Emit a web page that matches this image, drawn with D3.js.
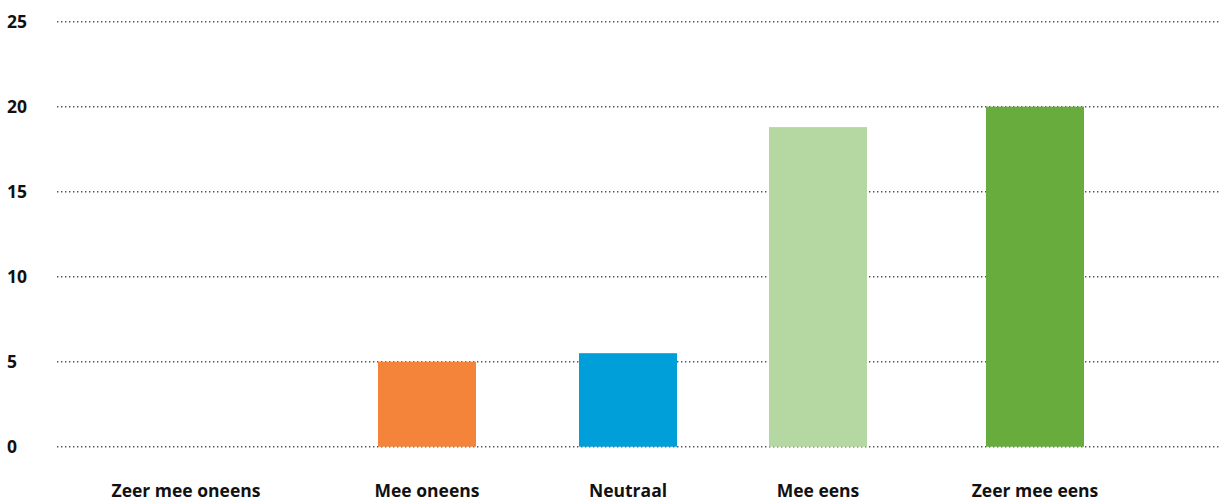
<!DOCTYPE html>
<html><head><meta charset="utf-8">
<script src="https://cdn.jsdelivr.net/npm/d3@7"></script>
<style>body{margin:0;background:#fff}svg{display:block}</style>
</head><body>
<svg id="c" width="1220" height="503"></svg>
<script>
const categories = ["Zeer mee oneens","Mee oneens","Neutraal","Mee eens","Zeer mee eens"];
const values = [0, 5, 5.5, 18.8, 20];
const colors = ["#f3843a","#f3843a","#009fd9","#b5d8a3","#67ac3d"];
const yTicks = [0,5,10,15,20,25];

const svg = d3.select("#c");
const W = 1220, H = 503;
const y = d3.scaleLinear().domain([0,25]).range([446.7,21.7]);
// category centres (chart layout is not evenly spaced in the original)
const x = d3.scaleOrdinal().domain(categories).range([186,427,628,818,1035]);
const bw = 98;

const font = "'Open Sans', sans-serif";

// gridlines
svg.append("g").selectAll("line").data(yTicks).join("line")
  .attr("x1",57).attr("x2",W)
  .attr("y1",d=>y(d)).attr("y2",d=>y(d))
  .attr("stroke","#555").attr("stroke-width",1.4)
  .attr("stroke-dasharray","1.4,2.6");

// y labels
svg.append("g").selectAll("text").data(yTicks).join("text")
  .attr("x",7).attr("y",d=>y(d)).attr("dy","0.36em")
  .attr("font-family",font).attr("font-weight",700).attr("font-size",17.5)
  .attr("fill","#111").text(d=>d);

// bars
svg.append("g").selectAll("rect").data(categories).join("rect")
  .attr("x",(d)=>x(d)-bw/2).attr("width",bw)
  .attr("y",(d,i)=>y(values[i])).attr("height",(d,i)=>y(0)-y(values[i]))
  .attr("fill",(d,i)=>colors[i]);

// x labels
svg.append("g").selectAll("text").data(categories).join("text")
  .attr("x",d=>x(d)).attr("y",497).attr("text-anchor","middle")
  .attr("font-family",font).attr("font-weight",700).attr("font-size",17.5)
  .attr("fill","#111").text(d=>d);
</script>
</body></html>
